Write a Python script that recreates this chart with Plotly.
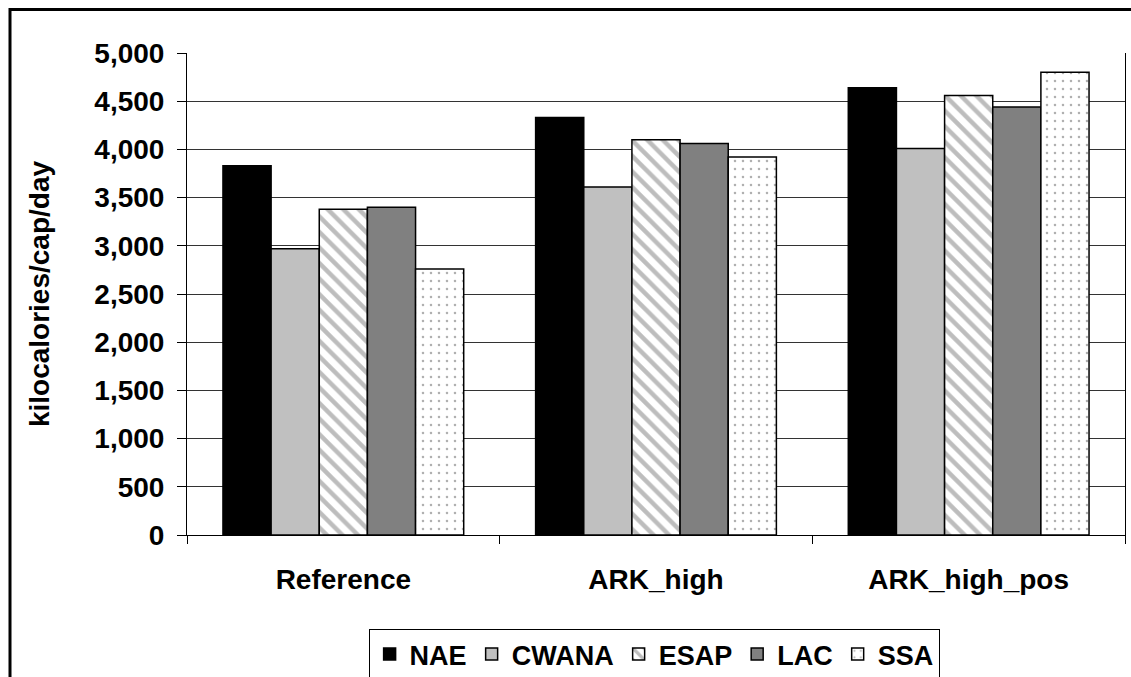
import plotly.graph_objects as go

scenarios = ["Reference", "ARK_high", "ARK_high_pos"]
regions = ["NAE", "CWANA", "ESAP", "LAC", "SSA"]
nae = [3830, 4330, 4640]
cwana = [2970, 3610, 4010]
esap = [3380, 4100, 4560]
lac = [3400, 4060, 4440]
ssa = [2760, 3920, 4800]
y_ticks = [0, 500, 1000, 1500, 2000, 2500, 3000, 3500, 4000, 4500, 5000]

series = [nae, cwana, esap, lac, ssa]
styles = [
    dict(color="#000000"),
    dict(color="#C0C0C0"),
    dict(color="#FFFFFF", pattern=dict(shape="\\", fgcolor="#BDBDBD", bgcolor="#FFFFFF", size=11, solidity=0.4, fillmode="replace")),
    dict(color="#808080"),
    dict(color="#FFFFFF", pattern=dict(shape=".", fgcolor="#B0B0B0", bgcolor="#FFFFFF", size=8, solidity=0.08, fillmode="replace")),
]

FONT = "Arial, Liberation Sans, sans-serif"

fig = go.Figure()
for name, vals, st in zip(regions, series, styles):
    fig.add_trace(go.Bar(
        name=name, x=scenarios, y=vals,
        marker=dict(**st, line=dict(color="#000000", width=1.5)),
    ))

W, H = 1131, 677
L, R, T, B = 187, 6, 53, 142
pw = W - L - R
ph = H - T - B

def px_x(p):
    return (p - L) / pw

def px_y(p):
    return (H - B - p) / ph

fig.update_layout(
    width=W, height=H,
    margin=dict(l=L, r=R, t=T, b=B, pad=0, autoexpand=False),
    paper_bgcolor="white", plot_bgcolor="white",
    barmode="group", bargap=0.23, bargroupgap=0,
    font=dict(family=FONT, size=28, color="black", weight="bold"),
    showlegend=True,
    legend=dict(
        orientation="h", x=0.498, xanchor="center", y=px_y(629), yanchor="top",
        bordercolor="#000000", borderwidth=1, bgcolor="white",
        font=dict(family=FONT, size=27, color="black", weight="bold"),
        itemwidth=30, traceorder="normal",
    ),
    xaxis=dict(
        showline=True, linecolor="black", linewidth=1,
        ticks="outside", ticklen=8, tickcolor="black", tickson="boundaries",
        tickfont=dict(family=FONT, size=28, color="black", weight="bold"),
        ticklabelstandoff=19,
        automargin=False,
    ),
    yaxis=dict(
        range=[0, 5000], tickvals=y_ticks, tickformat=",d",
        showline=True, linecolor="black", linewidth=1, mirror=True,
        ticks="outside", ticklen=9, tickcolor="black",
        showgrid=True, gridcolor="#333333", gridwidth=1,
        tickfont=dict(family=FONT, size=28, color="black", weight="bold"),
        ticklabelstandoff=7,
        title=dict(text="kilocalories/cap/day", standoff=36,
                   font=dict(family=FONT, size=28, color="black", weight="bold")),
        zeroline=False,
        automargin=False,
    ),
    shapes=[dict(
        type="rect", xref="paper", yref="paper",
        x0=px_x(10), x1=px_x(1145), y0=px_y(690), y1=px_y(9.5),
        line=dict(color="black", width=3), fillcolor="rgba(0,0,0,0)", layer="above",
    )],
)

fig.write_html("out.html", config={"displayModeBar": False},
               post_script="document.body.style.margin='0px';")
